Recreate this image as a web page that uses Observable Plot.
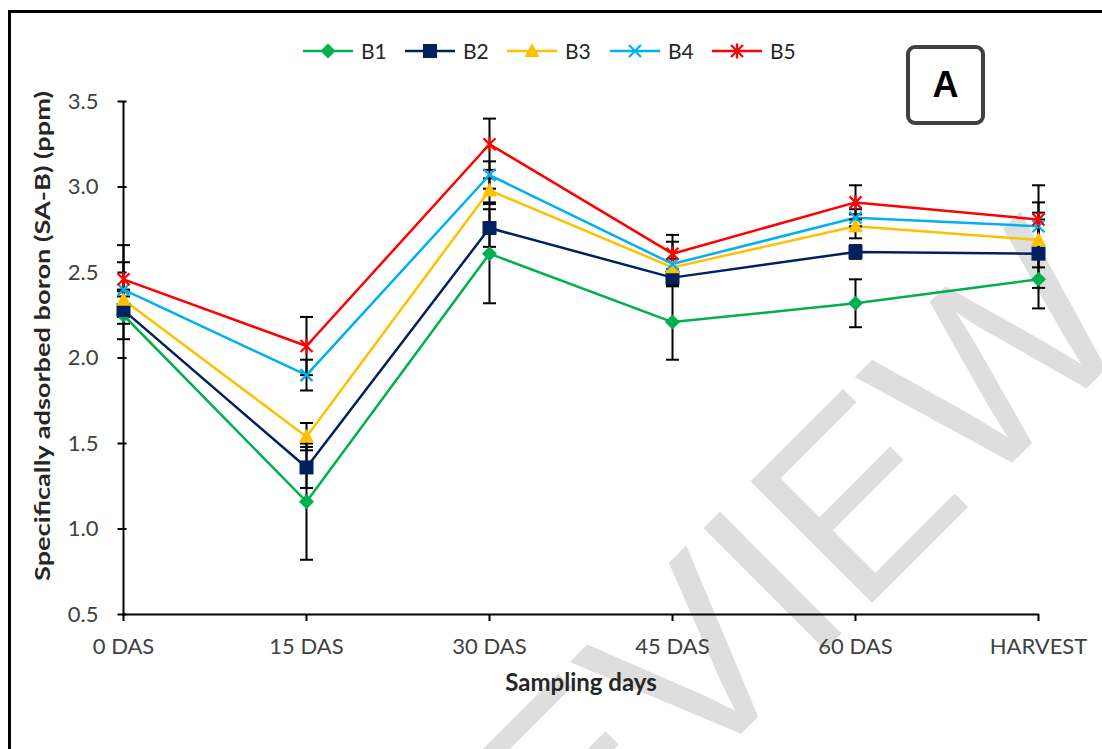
<!DOCTYPE html>
<html>
<head>
<meta charset="utf-8">
<script src="https://cdn.jsdelivr.net/npm/d3@7"></script>
<script src="https://cdn.jsdelivr.net/npm/@observablehq/plot@0.6"></script>
<style>
  html, body { margin: 0; padding: 0; background: #fff; overflow: hidden; }
  #page { position: relative; width: 1102px; height: 749px; overflow: hidden; font-family: Lato, "Open Sans", sans-serif; }
  #border { position: absolute; left: 8px; top: 10px; width: 1110px; height: 760px; border: 3px solid #000; box-sizing: border-box; }
  #wm { position: absolute; left: 0; top: 0; }
  #chart { position: absolute; left: 0; top: 0; }
  #legend { position: absolute; top: 38px; left: 0; width: 1102px; height: 26px; }
  .item { position: absolute; top: 0; display: flex; align-items: center; font-size: 21px; color: #262626; }
  .item svg { margin-right: 8px; }
  #tag { position: absolute; left: 906px; top: 45px; width: 79px; height: 80px; box-sizing: border-box; border: 4px solid #404040; border-radius: 9px; font-family: "Liberation Sans", Arial, sans-serif; font-weight: bold; font-size: 36px; display: flex; align-items: center; justify-content: center; color: #000; background: #fff; }
</style>
</head>
<body>
<div id="page">
  <svg id="wm" width="1102" height="749"></svg>
  <div id="border"></div>
  <div id="chart"></div>
  <div id="legend"></div>
  <div id="tag">A</div>
</div>
<script>
// ---- data ----
const days = ["0 DAS", "15 DAS", "30 DAS", "45 DAS", "60 DAS", "HARVEST"];
const seriesNames = ["B1", "B2", "B3", "B4", "B5"];
const B1 = [2.25, 1.16, 2.61, 2.21, 2.32, 2.46];
const B2 = [2.28, 1.36, 2.76, 2.47, 2.62, 2.61];
const B3 = [2.34, 1.54, 2.98, 2.53, 2.77, 2.69];
const B4 = [2.40, 1.90, 3.07, 2.55, 2.82, 2.77];
const B5 = [2.46, 2.07, 3.25, 2.61, 2.91, 2.81];
const errB1 = [0.14, 0.34, 0.29, 0.22, 0.14, 0.17];
const errB2 = [0.08, 0.12, 0.11, 0.05, 0.04, 0.20];
const errB3 = [0.06, 0.08, 0.07, 0.05, 0.07, 0.16];
const errB4 = [0.16, 0.09, 0.08, 0.13, 0.05, 0.14];
const errB5 = [0.20, 0.17, 0.15, 0.11, 0.10, 0.20];
const yTicks = [0.5, 1.0, 1.5, 2.0, 2.5, 3.0, 3.5];
const colors = ["#00B050", "#002060", "#FFC000", "#00B0F0", "#FF0000"];
const yLabel = "Specifically adsorbed boron (SA-B) (ppm)";
const xLabel = "Sampling days";
const watermark = "PREVIEW";

// ---- custom symbols ----
const symDiamond = {draw(c) { const r = 7.5; c.moveTo(0, -r); c.lineTo(r, 0); c.lineTo(0, r); c.lineTo(-r, 0); c.closePath(); }};
const symSquare = {draw(c) { const r = 7; c.moveTo(-r, -r); c.lineTo(r, -r); c.lineTo(r, r); c.lineTo(-r, r); c.closePath(); }};
const symTriangle = {draw(c) { c.moveTo(0, -8); c.lineTo(7.5, 6); c.lineTo(-7.5, 6); c.closePath(); }};
const symTimes = {draw(c) { const r = 6; c.moveTo(-r, -r); c.lineTo(r, r); c.moveTo(r, -r); c.lineTo(-r, r); }};
const symStar = {draw(c) { const r = 6; c.moveTo(-r, -r); c.lineTo(r, r); c.moveTo(r, -r); c.lineTo(-r, r); c.moveTo(0, -7.5); c.lineTo(0, 7.5); }};
const symCap = {draw(c) { c.moveTo(-6.5, 0); c.lineTo(6.5, 0); }};
const symbols = [symDiamond, symSquare, symTriangle, symTimes, symStar];
const filled = [true, true, true, false, false];

const vals = [B1, B2, B3, B4, B5];
const errs = [errB1, errB2, errB3, errB4, errB5];
const data = seriesNames.map((s, i) => days.map((d, j) => ({series: s, day: d, v: vals[i][j], e: errs[i][j]})));

const marks = [];
marks.push(Plot.ruleY([0.5], {stroke: "#000", strokeWidth: 2}));
marks.push(Plot.ruleX([days[0]], {stroke: "#000", strokeWidth: 2}));
marks.push(Plot.axisY({ticks: yTicks, tickSize: 9, dx: 4.5, tickFormat: () => "", stroke: "#000", strokeWidth: 2, label: null}));
marks.push(Plot.axisY({ticks: yTicks, tickSize: 0, tickPadding: 24, tickFormat: d3.format(".1f"), fontSize: 22, fill: "#404040", label: null}));
marks.push(Plot.axisX({tickSize: 7, tickPadding: 17, fontSize: 22, fill: "#404040", stroke: "#000", strokeWidth: 2, label: null}));
marks.push(Plot.text([yLabel], {frameAnchor: "left", textAnchor: "middle", rotate: -90, dx: -79, dy: -22, text: d => d, fontWeight: "bold", fontSize: 21, fill: "#262626"}));
marks.push(Plot.text([xLabel], {frameAnchor: "bottom", textAnchor: "middle", dy: 76, text: d => d, fontWeight: "bold", fontSize: 24, fill: "#262626"}));

data.forEach((rows, i) => {
  marks.push(Plot.line(rows, {x: "day", y: "v", stroke: colors[i], strokeWidth: 2.5}));
  marks.push(Plot.ruleX(rows, {x: "day", y1: d => d.v - d.e, y2: d => d.v + d.e, stroke: "#000", strokeWidth: 2}));
  marks.push(Plot.dot(rows, {x: "day", y: d => d.v + d.e, symbol: symCap, stroke: "#000", strokeWidth: 2, r: 5}));
  marks.push(Plot.dot(rows, {x: "day", y: d => d.v - d.e, symbol: symCap, stroke: "#000", strokeWidth: 2, r: 5}));
});
data.forEach((rows, i) => {
  marks.push(Plot.dot(rows, filled[i]
    ? {x: "day", y: "v", symbol: symbols[i], fill: colors[i], stroke: "none", r: 5}
    : {x: "day", y: "v", symbol: symbols[i], fill: "none", stroke: colors[i], strokeWidth: 2.2, r: 5}));
});

const chart = Plot.plot({
  width: 1102,
  height: 749,
  marginLeft: 122,
  marginRight: 63,
  marginTop: 101,
  marginBottom: 135,
  style: {background: "transparent", fontFamily: "Lato, 'Open Sans', sans-serif", overflow: "visible"},
  x: {type: "point", domain: days, padding: 0, axis: null},
  y: {domain: [0.5, 3.5], axis: null},
  marks
});
document.getElementById("chart").appendChild(chart);
d3.select(chart).selectAll("text").filter(function() { return this.textContent === yLabel; })
  .attr("textLength", 490).attr("lengthAdjust", "spacingAndGlyphs");

// ---- legend ----
const legend = document.getElementById("legend");
const legendX = [303, 405, 507, 610, 712];
seriesNames.forEach((s, i) => {
  const item = document.createElement("div");
  item.className = "item";
  item.style.left = legendX[i] + "px";
  const svg = d3.create("svg").attr("width", 50).attr("height", 24);
  svg.append("line").attr("x1", 0).attr("x2", 50).attr("y1", 12).attr("y2", 12).attr("stroke", colors[i]).attr("stroke-width", 2.5);
  const p = d3.path(); symbols[i].draw(p);
  svg.append("path").attr("transform", "translate(25,12)").attr("d", p.toString())
    .attr("fill", filled[i] ? colors[i] : "none").attr("stroke", filled[i] ? "none" : colors[i]).attr("stroke-width", 2.2);
  item.appendChild(svg.node());
  const t = document.createElement("span"); t.textContent = s; item.appendChild(t);
  legend.appendChild(item);
});

// ---- watermark ----
d3.select("#wm").append("text")
  .attr("transform", "translate(735,740) rotate(-45)")
  .attr("text-anchor", "middle")
  .attr("font-family", "Liberation Sans, Arial, sans-serif")
  .attr("font-size", 250)
  .attr("fill", "#dedede")
  .text(watermark);
</script>
</body>
</html>
